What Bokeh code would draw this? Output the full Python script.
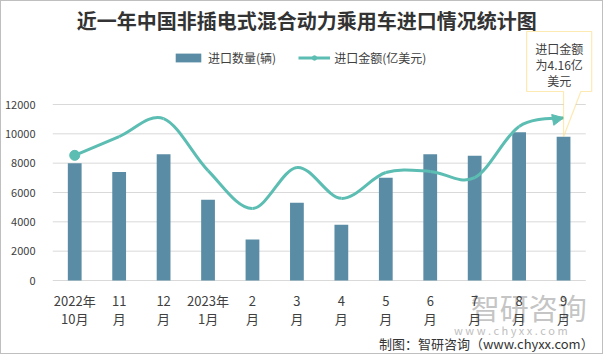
from bokeh.plotting import figure
from bokeh.models import (Range1d, FixedTicker, Label, Legend, LegendItem,
                          Arrow, NormalHead, PolyAnnotation)
from bokeh.embed import file_html
from bokeh.resources import INLINE

# ---------------- data ----------------
categories = ["2022年\n10月", "11\n月", "12\n月", "2023年\n1月", "2\n月", "3\n月",
              "4\n月", "5\n月", "6\n月", "7\n月", "8\n月", "9\n月"]
quantity = [8000, 7400, 8600, 5500, 2800, 5300, 3800, 7000, 8600, 8500, 10100, 9800]
amount = [3.20, 3.68, 4.14, 2.81, 1.84, 2.89, 2.10, 2.76, 2.79, 2.63, 3.94, 4.16]
y_ticks = [0, 2000, 4000, 6000, 8000, 10000, 12000]
title_text = "近一年中国非插电式混合动力乘用车进口情况统计图"
series_names = ["进口数量(辆)", "进口金额(亿美元)"]
callout_lines = ["进口金额", "为4.16亿", "美元"]
footer_text = "制图：智研咨询（www.chyxx.com）"
watermark_text = "智研咨询"
watermark_url = "w w w . c h y x x . c o m"

# ---------------- style / layout ----------------
FONT = "Noto Sans CJK SC"
BAR = "#5A8DA5"
LINE = "#5CBDB3"
GRID = "#D9D9D9"
TXT = "#404040"

FL, FR, FB = 44, 585, 280          # plot area edges in page pixels
Y_TOP_VAL, Y_TOP_PX = 12000, 104
Y2_TOP_VAL = 4.5
n = len(categories)
colw = (FR - FL) / n
ppu = (FB - Y_TOP_PX) / Y_TOP_VAL


def px2x(px):
    return -0.5 + (px - FL) / colw


def py2y(py):
    return (FB - py) / ppu


def py2y2(py):
    return (FB - py) / ppu * Y2_TOP_VAL / Y_TOP_VAL


p = figure(width=603, height=354, output_backend="svg", toolbar_location=None,
           x_range=Range1d(-0.5, px2x(604)), y_range=Range1d(py2y(355), py2y(1)),
           min_border_left=FL - 1, min_border_right=0,
           min_border_top=0, min_border_bottom=0)
p.styles = {"border": "1px solid #BFBFBF"}
p.extra_y_ranges = {"y2": Range1d(py2y2(355), py2y2(1))}
p.outline_line_color = None
p.background_fill_color = "white"
p.border_fill_color = "white"

# axes
p.yaxis.ticker = FixedTicker(ticks=y_ticks)
p.ygrid.visible = False
p.xgrid.visible = False
p.yaxis.axis_line_color = None
p.yaxis.major_tick_line_color = None
p.yaxis.minor_tick_line_color = None
p.yaxis.major_label_standoff = 11
p.yaxis.major_label_text_font = FONT
p.yaxis.major_label_text_font_size = "11px"
p.yaxis.major_label_text_color = TXT

p.xaxis.ticker = FixedTicker(ticks=list(range(n)))
p.xaxis.major_label_overrides = {i: lab for i, lab in enumerate(categories)}
p.xaxis.fixed_location = 0
p.xaxis.axis_line_color = None
p.xaxis.major_tick_line_color = None
p.xaxis.minor_tick_line_color = None
p.xaxis.major_label_standoff = 4
p.xaxis.major_label_text_font = FONT
p.xaxis.major_label_text_font_size = "13px"
p.xaxis.major_label_text_color = TXT
p.xaxis.major_label_text_line_height = 0.95

# horizontal grid lines spanning the category area
p.segment(x0=-0.5, x1=n - 0.5, y0=y_ticks, y1=y_ticks, line_color=GRID,
          line_width=1, level="underlay")

# watermark (under the marks)
p.add_layout(Label(x=px2x(586), y=py2y(306), text=watermark_text, text_align="right",
                   text_baseline="middle", text_font=FONT, text_font_size="29px",
                   text_color="#B5B5B5", text_alpha=0.8, level="underlay"))
p.add_layout(Label(x=px2x(509), y=py2y(329), text=watermark_url, text_align="center",
                   text_baseline="middle", text_font=FONT, text_font_size="11px",
                   text_color="#C0C0C0", level="underlay"))

# bars
xs = list(range(n))
bars = p.vbar(x=xs, top=quantity, width=0.31, fill_color=BAR, line_color=None)

# smoothed amount line (cubic Bezier segments through the data points)
x0, y0, x1, y1, cx0, cy0, cx1, cy1 = [], [], [], [], [], [], [], []
for i in range(n - 1):
    im1 = max(i - 1, 0)
    ip2 = min(i + 2, n - 1)
    x0.append(xs[i]); y0.append(amount[i])
    x1.append(xs[i + 1]); y1.append(amount[i + 1])
    cx0.append(xs[i] + (xs[i + 1] - xs[im1]) / 6)
    cy0.append(amount[i] + (amount[i + 1] - amount[im1]) / 6)
    cx1.append(xs[i + 1] - (xs[ip2] - xs[i]) / 6)
    cy1.append(amount[i + 1] - (amount[ip2] - amount[i]) / 6)
p.bezier(x0=x0, y0=y0, x1=x1, y1=y1, cx0=cx0, cy0=cy0, cx1=cx1, cy1=cy1,
         line_color=LINE, line_width=3, y_range_name="y2")
dot = p.scatter(x=xs[:1], y=amount[:1], size=10, fill_color=LINE, line_color=LINE,
                y_range_name="y2")
p.add_layout(Arrow(end=NormalHead(size=11, fill_color=LINE, line_color=LINE),
                   x_start=cx1[-1], y_start=cy1[-1], x_end=xs[-1], y_end=amount[-1],
                   line_alpha=0, y_range_name="y2"))

# legend (a one-point line renderer only supplies the legend swatch)
leg_line = p.line(x=xs[:1], y=amount[:1], line_color=LINE, line_width=3,
                  y_range_name="y2")
legend = Legend(items=[LegendItem(label=series_names[0], renderers=[bars]),
                       LegendItem(label=series_names[1], renderers=[leg_line, dot])],
                orientation="horizontal", location=(120, 289),
                margin=0, padding=0, spacing=22, label_standoff=4,
                glyph_width=32, glyph_height=11,
                border_line_color=None, background_fill_alpha=0,
                label_text_font=FONT, label_text_font_size="12px",
                label_text_color=TXT)
p.add_layout(legend)

# title
p.add_layout(Label(x=px2x(302), y=py2y(20), text=title_text, text_align="center",
                   text_baseline="middle", text_font=FONT, text_font_size="20px",
                   text_font_style="bold", text_color="#333333"))

# callout at last point
tip_px = FL + colw * (xs[-1] + 0.5)
tip_py = FB - quantity[-1] * ppu
bx = [525, 591, 591, 580, tip_px, tip_px, 525]
by = [31, 31, 91, 91, tip_py, 91, 91]
p.add_layout(PolyAnnotation(xs=[px2x(v) for v in bx], ys=[py2y(v) for v in by],
                            fill_color="white", fill_alpha=1,
                            line_color="#F7B500", line_width=1.2))
for k, t in enumerate(callout_lines):
    p.add_layout(Label(x=px2x(558), y=py2y(48 + 16 * k), text=t, text_align="center",
                       text_baseline="middle", text_font=FONT, text_font_size="12px",
                       text_color=TXT))

# footer
p.add_layout(Label(x=px2x(593), y=py2y(343), text=footer_text, text_align="right",
                   text_baseline="middle", text_font=FONT, text_font_size="13px",
                   text_color="#333333"))

open("out.html", "w").write(file_html(p, INLINE))
